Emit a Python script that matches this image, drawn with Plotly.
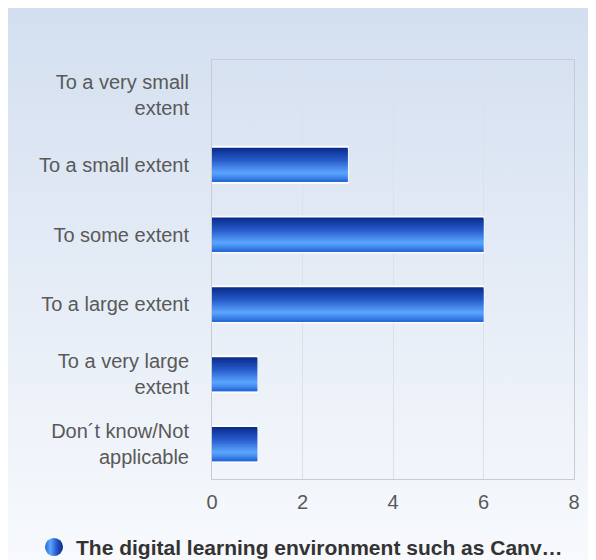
import base64
import plotly.graph_objects as go

categories = [
    "To a very small<br>extent",
    "To a small extent",
    "To some extent",
    "To a large extent",
    "To a very large<br>extent",
    "Don´t know/Not<br>applicable",
]
counts = [0, 3, 6, 6, 1, 1]
series_name = "The digital learning environment such as Canv…"
x_ticks = [0, 2, 4, 6, 8]


def svg_uri(svg):
    return "data:image/svg+xml;base64," + base64.b64encode(svg.encode()).decode()


# page background: light blue fading to near white
bg_uri = svg_uri(
    '<svg xmlns="http://www.w3.org/2000/svg" width="100" height="100" preserveAspectRatio="none">'
    '<defs><linearGradient id="g" x1="0" y1="0" x2="0" y2="1">'
    '<stop offset="0" stop-color="#d3dff0"/><stop offset="1" stop-color="#f8fafd"/>'
    '</linearGradient></defs><rect width="100" height="100" fill="url(#g)"/></svg>'
)
# legend "sphere"
dot_uri = svg_uri(
    '<svg xmlns="http://www.w3.org/2000/svg" width="20" height="20">'
    '<defs><linearGradient id="d" x1="0" y1="0" x2="1" y2="0">'
    '<stop offset="0" stop-color="#2a66d4"/><stop offset="0.3" stop-color="#5ca6ff"/>'
    '<stop offset="0.65" stop-color="#2458c8"/><stop offset="1" stop-color="#0a2a8a"/>'
    '</linearGradient></defs><circle cx="10" cy="10" r="9.5" fill="url(#d)"/></svg>'
)

W, H = 596, 560
L, T = 204, 52
pw, ph = 362, 419
R, B = W - L - pw, H - T - ph
legend_y = 539


def hex_rgb(h):
    return tuple(int(h[i:i + 2], 16) for i in (1, 3, 5))


def lerp_stops(stops, t):
    for (t0, c0), (t1, c1) in zip(stops, stops[1:]):
        if t <= t1:
            f = (t - t0) / (t1 - t0) if t1 > t0 else 0
            a, b = hex_rgb(c0), hex_rgb(c1)
            return "rgb(%d,%d,%d)" % tuple(round(a[i] + (b[i] - a[i]) * f) for i in range(3))
    return stops[-1][1]


grad = [(0, "#0a2a8a"), (0.35, "#2458c8"), (0.74, "#5ca6ff"), (1.0, "#2266d6")]
bar_w = 0.49
n_strips = 24

fig = go.Figure()

# white outline behind each bar
fig.add_trace(go.Bar(
    x=counts, y=categories, orientation="h", width=bar_w + 0.03,
    marker=dict(color="white",
                line=dict(color=["white" if c else "rgba(0,0,0,0)" for c in counts], width=1.5)),
    showlegend=False, hoverinfo="skip",
))

# vertical gradient inside the bars, built from overlapping thin strips
sw = bar_w / n_strips
for i in range(n_strips):
    off = -bar_w / 2 + i * sw
    fig.add_trace(go.Bar(
        x=counts, y=categories, orientation="h",
        width=min(2 * sw, bar_w / 2 - off), offset=off,
        marker=dict(color=lerp_stops(grad, (i + 0.5) / n_strips), line=dict(width=0)),
        showlegend=False, hoverinfo="skip",
    ))

fig.update_layout(
    width=W, height=H,
    margin=dict(l=L, r=R, t=T, b=B, pad=0, autoexpand=False),
    paper_bgcolor="white",
    plot_bgcolor="rgba(0,0,0,0)",
    barmode="overlay",
    showlegend=False,
    font=dict(family="Arial, Liberation Sans, sans-serif", size=20, color="#595959"),
    images=[
        dict(source=bg_uri, xref="paper", yref="paper",
             x=-L / pw, y=1 + T / ph, sizex=W / pw, sizey=H / ph,
             xanchor="left", yanchor="top", sizing="stretch", layer="below"),
        dict(source=dot_uri, xref="paper", yref="paper",
             x=(46 - L) / pw, y=(T + ph - legend_y) / ph, sizex=19 / pw, sizey=19 / ph,
             xanchor="center", yanchor="middle", sizing="stretch", layer="above"),
    ],
    annotations=[dict(
        text="<b>" + series_name + "</b>", xref="paper", yref="paper",
        x=(66 - L) / pw, y=(T + ph - legend_y) / ph, xanchor="left", yanchor="middle",
        showarrow=False, font=dict(size=21, color="#333333"),
    )],
    xaxis=dict(
        range=[0, 8], tickvals=x_ticks, showgrid=True, gridcolor="#dde0e5", gridwidth=1,
        zeroline=False, showline=True, linecolor="#c8ccd2", mirror=True,
        ticks="outside", ticklen=5, tickcolor="rgba(0,0,0,0)",
        tickfont=dict(size=20, color="#595959"),
    ),
    yaxis=dict(
        autorange="reversed", showgrid=False, zeroline=False,
        showline=True, linecolor="#c8ccd2", mirror=True,
        ticks="outside", ticklen=18, tickcolor="rgba(0,0,0,0)",
        tickfont=dict(size=20, color="#595959"),
    ),
)

fig.write_html("out.html")
